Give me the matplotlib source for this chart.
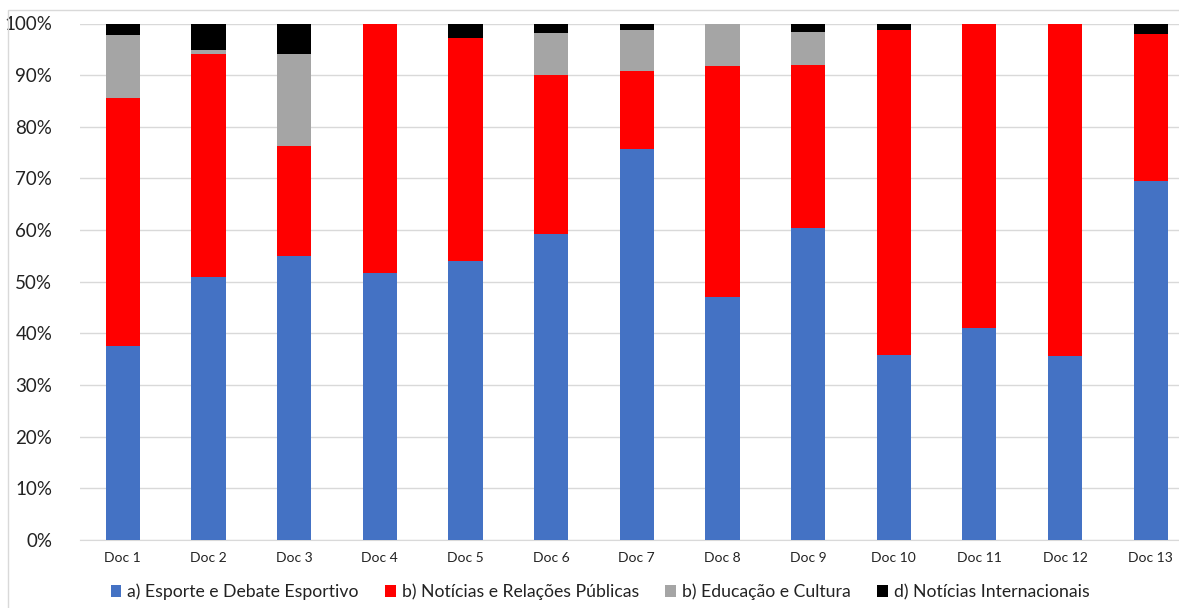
import matplotlib
matplotlib.use("Agg")
import matplotlib.pyplot as plt
from matplotlib.patches import Rectangle, Patch
from matplotlib.ticker import PercentFormatter

plt.rcParams['font.family'] = ['Lato', 'DejaVu Sans']

categories = [f"Doc {i}" for i in range(1, 14)]
esporte = [37.6, 50.9, 55.0, 51.7, 54.0, 59.2, 75.7, 47.0, 60.4, 35.8, 41.0, 35.6, 69.5]
noticias = [47.9, 43.2, 21.3, 48.3, 43.1, 30.9, 15.2, 44.8, 31.5, 62.9, 59.0, 64.4, 28.5]
educacao = [12.2, 0.8, 17.8, 0.0, 0.0, 8.0, 7.8, 8.2, 6.4, 0.0, 0.0, 0.0, 0.0]
internacionais = [2.3, 5.1, 5.9, 0.0, 2.9, 1.9, 1.3, 0.0, 1.7, 1.3, 0.0, 0.0, 2.0]

series = [
    ("a) Esporte e Debate Esportivo", esporte, "#4472C4"),
    ("b) Notícias e Relações Públicas", noticias, "#FF0000"),
    ("b) Educação e Cultura", educacao, "#A5A5A5"),
    ("d) Notícias Internacionais", internacionais, "#000000"),
]

W, H = 1179, 608
fig = plt.figure(figsize=(W / 100, H / 100), dpi=100)
ax = fig.add_axes([80 / W, 1 - 540 / H, (1193.5 - 80) / W, (540 - 23.5) / H])

x = list(range(len(categories)))
bottom = [0.0] * len(categories)
for name, vals, col in series:
    ax.bar(x, vals, width=0.4, bottom=bottom, color=col, label=name, zorder=3)
    bottom = [b + v for b, v in zip(bottom, vals)]

ax.set_xlim(-0.5, len(categories) - 0.5)
ax.set_ylim(0, 100)
ax.set_yticks(range(0, 101, 10))
ax.yaxis.set_major_formatter(PercentFormatter(decimals=0))
ax.set_xticks(x)
ax.set_xticklabels(categories, fontsize=10, color="#222222")
ax.tick_params(axis='y', labelsize=13.5, length=0, pad=20, colors="#222222")
ax.tick_params(axis='x', length=0, pad=9)
ax.grid(axis='y', color="#D9D9D9", linewidth=1, zorder=0)
for s in ['top', 'right', 'left']:
    ax.spines[s].set_visible(False)
ax.spines['bottom'].set_color("#D9D9D9")

handles = [Patch(facecolor=c, edgecolor='none') for _, _, c in series]
labels = [n for n, _, _ in series]
fig.legend(handles, labels, loc='center', bbox_to_anchor=(600 / W, 1 - 592 / H),
           ncol=4, frameon=False, fontsize=12.7, handlelength=0.6, handleheight=0.6,
           handletextpad=0.34, columnspacing=1.5, labelcolor="#222222",
           borderpad=0, borderaxespad=0)

fig.patches.append(Rectangle((8 / W, -0.05), 1.1, 1 - 10 / H + 0.05, transform=fig.transFigure,
                             fill=False, edgecolor="#D9D9D9", linewidth=1))

fig.savefig("out.png", dpi=100)
